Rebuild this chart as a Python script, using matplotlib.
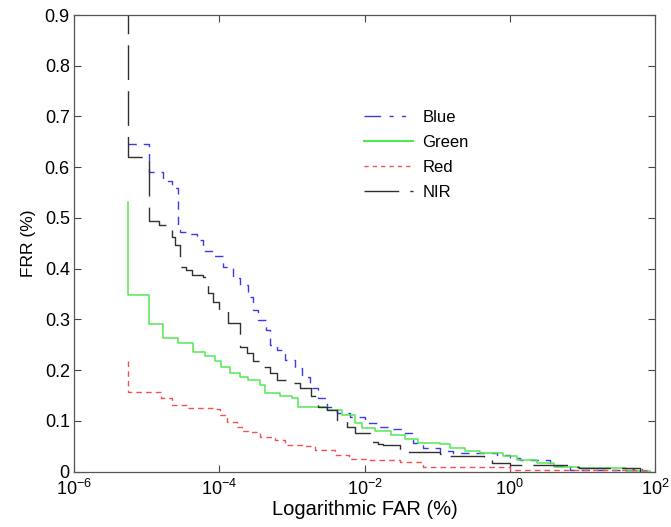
import numpy as np
import matplotlib
matplotlib.use("Agg")
import matplotlib.pyplot as plt
from matplotlib.lines import Line2D

plt.rcParams['font.family'] = ['Liberation Sans', 'DejaVu Sans']

# log10(FAR %) and FRR values
blue_lx = [-5.26, -4.963, -4.778, -4.654, -4.563, -4.54, -4.426, -4.31, -4.219, -4.081,
           -3.943, -3.806, -3.713, -3.599, -3.53, -3.461, -3.355, -3.3, -3.208, -3.094,
           -2.956, -2.864, -2.749, -2.635, -2.519, -2.382, -2.198, -1.992, -1.809, -1.647,
           -1.464, -1.326, -1.189, -0.959, -0.775, -0.178, 0.006, 0.143, 0.556, 0.832,
           1.70, 1.82, 1.934]
blue_frr = [0.645, 0.590, 0.572, 0.559, 0.477, 0.473, 0.469, 0.457, 0.434, 0.424,
            0.404, 0.381, 0.368, 0.345, 0.319, 0.299, 0.279, 0.250, 0.240, 0.220,
            0.204, 0.187, 0.164, 0.144, 0.128, 0.116, 0.108, 0.095, 0.088, 0.083,
            0.075, 0.056, 0.046, 0.041, 0.036, 0.033, 0.026, 0.023, 0.011, 0.003,
            0.005, 0.001, 0.0]

green_lx = [-5.26, -5.26, -4.963, -4.778, -4.563, -4.356, -4.196, -4.06, -3.97, -3.85,
            -3.713, -3.599, -3.438, -3.37, -3.16, -3.0, -2.91, -2.52, -2.31, -2.13,
            -2.04, -1.86, -1.63, -1.44, -1.26, -0.96, -0.82, -0.61, -0.41, -0.09,
            0.10, 0.37, 0.61, 0.96, 1.6, 1.934]
green_frr = [0.532, 0.348, 0.290, 0.263, 0.253, 0.236, 0.228, 0.217, 0.207, 0.194,
             0.187, 0.181, 0.171, 0.154, 0.148, 0.144, 0.128, 0.121, 0.111, 0.095,
             0.085, 0.079, 0.072, 0.064, 0.057, 0.054, 0.047, 0.041, 0.037, 0.031,
             0.023, 0.017, 0.0095, 0.006, 0.001, 0.001]

red_lx = [-5.26, -5.26, -4.80, -4.654, -4.45, -4.06, -3.99, -3.90, -3.76, -3.67,
          -3.60, -3.44, -3.23, -3.09, -2.86, -2.68, -2.40, -2.21, -1.93, -1.51,
          -1.19, -0.08, 0.006, 1.934]
red_frr = [0.217, 0.157, 0.144, 0.131, 0.125, 0.123, 0.111, 0.098, 0.088, 0.079,
           0.077, 0.069, 0.062, 0.052, 0.050, 0.042, 0.033, 0.024, 0.023, 0.019,
           0.009, 0.008, 0.002, 0.0]

nir_lx = [-5.26, -5.26, -4.963, -4.825, -4.70, -4.654, -4.61, -4.54, -4.46, -4.37,
          -4.23, -4.19, -4.16, -4.09, -4.0, -3.885, -3.713, -3.62, -3.53, -3.39,
          -3.30, -3.208, -3.07, -2.89, -2.73, -2.635, -2.519, -2.382, -2.24, -2.13,
          -1.92, -1.81, -1.74, -1.51, -1.42, -0.959, -0.82, -0.36, -0.24, 0.0,
          0.83, 0.96, 1.80]
nir_frr = [1.0, 0.621, 0.493, 0.486, 0.477, 0.463, 0.447, 0.404, 0.398, 0.388,
           0.384, 0.375, 0.352, 0.335, 0.319, 0.292, 0.246, 0.233, 0.217, 0.207,
           0.194, 0.181, 0.174, 0.164, 0.148, 0.128, 0.121, 0.102, 0.088, 0.075,
           0.059, 0.054, 0.052, 0.042, 0.039, 0.035, 0.031, 0.026, 0.016, 0.013,
           0.009, 0.006, 0.0]

labels = ["Blue", "Green", "Red", "NIR"]
x_ticks = [1e-6, 1e-4, 1e-2, 1e0, 1e2]
y_ticks = [0, 0.1, 0.2, 0.3, 0.4, 0.5, 0.6, 0.7, 0.8, 0.9]
y_ticklabels = ["0", "0.1", "0.2", "0.3", "0.4", "0.5", "0.6", "0.7", "0.8", "0.9"]

fig = plt.figure(figsize=(6.71, 5.27), dpi=100)
ax = fig.add_axes([74/671, 1-471.5/527, 581/671, 456.5/527])

c_blue = "#3a3ae6"
c_green = "#52e852"
c_red = "#f05050"
c_nir = "#303030"

ax.plot(10**np.array(blue_lx), blue_frr, drawstyle='steps-post', color=c_blue, lw=1.0, dashes=(6, 5))
ax.plot(10**np.array(green_lx), green_frr, drawstyle='steps-post', color=c_green, lw=1.1)
ax.plot(10**np.array(red_lx), red_frr, drawstyle='steps-post', color=c_red, lw=1.0, dashes=(4, 3))
ax.plot(10**np.array(nir_lx), nir_frr, drawstyle='steps-post', color=c_nir, lw=1.0, dashes=(25, 8))

ax.set_xscale('log')
ax.set_xlim(1e-6, 1e2)
ax.set_ylim(0, 0.9)
ax.set_xticks(x_ticks)
ax.xaxis.set_minor_locator(matplotlib.ticker.NullLocator())
ax.set_yticks(y_ticks)
ax.set_yticklabels(y_ticklabels)
ax.tick_params(axis='y', labelsize=13, pad=3)
ax.tick_params(axis='x', labelsize=13, pad=5)
ax.tick_params(direction='in', top=True, right=True, length=5, width=0.8,
               colors='#444444', labelcolor='black')
for s in ax.spines.values():
    s.set_color('#555555')
    s.set_linewidth(0.9)
ax.set_xlabel("Logarithmic FAR (%)", fontsize=14.5, labelpad=1)
ax.set_ylabel("FRR (%)", fontsize=12.5, labelpad=6)

handles = [
    Line2D([], [], color=c_blue, lw=1.0, dashes=(12, 6, 3, 6, 3, 6)),
    Line2D([], [], color=c_green, lw=1.5),
    Line2D([], [], color=c_red, lw=1.0, dashes=(3, 3)),
    Line2D([], [], color=c_nir, lw=1.0, dashes=(25, 8)),
]
ax.legend(handles, labels, loc='upper left', bbox_to_anchor=(0.499, 0.792), frameon=False,
          fontsize=12, handlelength=2.95, handletextpad=0.55, labelspacing=0.6,
          borderpad=0, borderaxespad=0)

fig.savefig("out.png", dpi=100)
